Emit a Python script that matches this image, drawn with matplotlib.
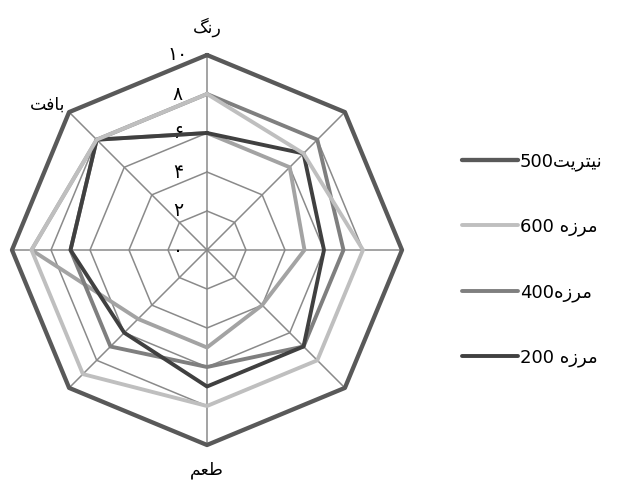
import re
import numpy as np
import matplotlib
matplotlib.use("Agg")
import matplotlib.pyplot as plt

# categories clockwise from the top; only three carry a name
categories = ["رنگ", "", "", "", "طعم", "", "", "بافت"]
grid_values = [2, 4, 6, 8, 10]
tick_labels = ["۰", "۲", "۴", "۶", "۸", "۱۰"]
tick_values = [0, 2, 4, 6, 8, 10]

series_names = ["نیتریت500", "مرزه 600", "مرزه400", "مرزه 200"]
nitrite_500 = [10, 10, 10, 10, 10, 10, 10, 10]
marzeh_600 = [8, 7, 8, 8, 8, 9, 9, 8]
marzeh_400 = [8, 8, 7, 7, 6, 7, 7, 8]
marzeh_200 = [6, 7, 6, 7, 7, 6, 7, 8]
unlabeled = [6, 6, 5, 4, 5, 5, 9, 8]   # fifth line, its legend entry is not shown

# tiny arabic-script shaper (matplotlib has no shaping / bidi)
FORMS = {
    'ا': ('\uFE8D', '\uFE8E', None, None),
    'ب': ('\uFE8F', '\uFE90', '\uFE91', '\uFE92'),
    'ت': ('\uFE95', '\uFE96', '\uFE97', '\uFE98'),
    'ر': ('\uFEAD', '\uFEAE', None, None),
    'ز': ('\uFEAF', '\uFEB0', None, None),
    'ط': ('\uFEC1', '\uFEC2', '\uFEC3', '\uFEC4'),
    'ع': ('\uFEC9', '\uFECA', '\uFECB', '\uFECC'),
    'ف': ('\uFED1', '\uFED2', '\uFED3', '\uFED4'),
    'م': ('\uFEE1', '\uFEE2', '\uFEE3', '\uFEE4'),
    'ن': ('\uFEE5', '\uFEE6', '\uFEE7', '\uFEE8'),
    'ه': ('\uFEE9', '\uFEEA', '\uFEEB', '\uFEEC'),
    'ی': ('\uFBFC', '\uFBFD', '\uFBFE', '\uFBFF'),
    'گ': ('\uFB92', '\uFB93', '\uFB94', '\uFB95'),
}


def shape_word(w):
    out = []
    for i, ch in enumerate(w):
        f = FORMS[ch]
        prev = i > 0 and FORMS[w[i - 1]][2] is not None
        nxt = i < len(w) - 1 and f[2] is not None
        if prev and nxt:
            out.append(f[3])
        elif prev:
            out.append(f[1])
        elif nxt:
            out.append(f[2])
        else:
            out.append(f[0])
    return ''.join(reversed(out))


def rtl(text):
    runs = re.findall(r'[\u0621-\u06EF]+|[0-9]+|[^\u0621-\u06EF0-9]+', text)
    return ''.join(shape_word(r) if r[0] in FORMS else r for r in reversed(runs))


plt.rcParams['font.family'] = ['DejaVu Sans']

fig = plt.figure(figsize=(6.17, 4.84), dpi=100)
ax = fig.add_axes([12 / 617, 39 / 484, 390 / 617, 390 / 484], projection='polar')
ax.set_theta_offset(np.pi / 2)
ax.set_theta_direction(-1)
ax.set_ylim(0, 10)
ax.axis('off')

angles = np.linspace(0, 2 * np.pi, len(categories), endpoint=False)
closed = np.append(angles, angles[0])

grid_c = '#8a8a8a'
for r in grid_values:
    ax.plot(closed, [r] * len(closed), color=grid_c, lw=1.1, zorder=1, clip_on=False)
for a in angles:
    ax.plot([a, a], [0, 10], color=grid_c, lw=1.1, zorder=1, clip_on=False)


def draw(vals, color, label, z, lw=2.8):
    v = list(vals) + [vals[0]]
    return ax.plot(closed, v, color=color, lw=lw, label=label, zorder=z,
                   solid_joinstyle='round', solid_capstyle='round', clip_on=False)[0]


draw(unlabeled, '#a3a3a3', '_nolegend_', 2)
l400 = draw(marzeh_400, '#7f7f7f', rtl(series_names[2]), 3)
l200 = draw(marzeh_200, '#404040', rtl(series_names[3]), 4)
l600 = draw(marzeh_600, '#bfbfbf', rtl(series_names[1]), 5)
l500 = draw(nitrite_500, '#595959', rtl(series_names[0]), 6, lw=3.1)

for v, t in zip(tick_values, tick_labels):
    ax.annotate(t, xy=(0, v), xytext=(-21, 0), textcoords='offset points',
                ha='center', va='center', fontsize=13.5, color='black')

ax.annotate(rtl(categories[0]), xy=(angles[0], 10), xytext=(0, 20), textcoords='offset points',
            ha='center', va='center', fontsize=12.5)
ax.annotate(rtl(categories[4]), xy=(angles[4], 10), xytext=(0, -18), textcoords='offset points',
            ha='center', va='center', fontsize=12.5)
ax.annotate(rtl(categories[7]), xy=(angles[7], 10), xytext=(-3, 5), textcoords='offset points',
            ha='right', va='center', fontsize=12.5)

fig.legend(handles=[l500, l600, l400, l200], loc='upper left',
           bbox_to_anchor=(462 / 617, 1 - 152 / 484), frameon=False,
           fontsize=13, handlelength=3.1, handletextpad=0.1, labelspacing=2.6,
           borderpad=0, borderaxespad=0)

fig.savefig('out.png', dpi=100)
